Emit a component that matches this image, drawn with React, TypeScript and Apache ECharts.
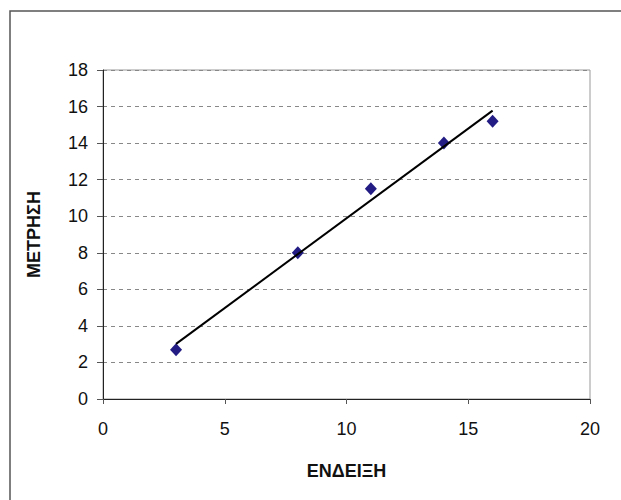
import React, { useEffect, useRef } from "react";
import * as echarts from "echarts";

const xValues = [3, 8, 11, 14, 16];
const yValues = [2.7, 8, 11.5, 14, 15.2];
const xAxisTitle = "ΕΝΔΕΙΞΗ";
const yAxisTitle = "ΜΕΤΡΗΣΗ";

function regression(xs: number[], ys: number[]) {
  const n = xs.length;
  const mx = xs.reduce((a, b) => a + b, 0) / n;
  const my = ys.reduce((a, b) => a + b, 0) / n;
  let sxy = 0;
  let sxx = 0;
  for (let i = 0; i < n; i++) {
    sxy += (xs[i] - mx) * (ys[i] - my);
    sxx += (xs[i] - mx) * (xs[i] - mx);
  }
  const slope = sxy / sxx;
  return { slope, intercept: my - slope * mx };
}

export default function App() {
  const ref = useRef<HTMLDivElement>(null);
  useEffect(() => {
    if (!ref.current) return;
    const chart = echarts.init(ref.current, null, { renderer: "svg" });
    const { slope, intercept } = regression(xValues, yValues);
    const xMin = Math.min(...xValues);
    const xMax = Math.max(...xValues);
    const trend = [
      [xMin, slope * xMin + intercept],
      [xMax, slope * xMax + intercept],
    ];
    const font = "Liberation Sans, Arial, sans-serif";
    chart.setOption({
      animation: false,
      backgroundColor: "#ffffff",
      graphic: [
        {
          type: "rect",
          shape: { x: 10, y: 11, width: 700, height: 600 },
          style: { fill: "none", stroke: "#555", lineWidth: 1.5 },
          silent: true,
          z: -10,
        },
      ],
      grid: {
        left: 103,
        right: 31,
        top: 70,
        bottom: 101,
        show: true,
        borderColor: "#999",
        borderWidth: 1,
      },
      xAxis: {
        type: "value",
        min: 0,
        max: 20,
        interval: 5,
        name: xAxisTitle,
        nameLocation: "middle",
        nameGap: 63,
        nameTextStyle: { fontFamily: font, fontWeight: "bold", fontSize: 18, color: "#111" },
        axisLine: { show: true, lineStyle: { color: "#222", width: 1 } },
        axisTick: { show: true, inside: false, length: 5, lineStyle: { color: "#555" } },
        axisLabel: { fontFamily: font, fontSize: 18, color: "#111", margin: 21 },
        splitLine: { show: false },
      },
      yAxis: {
        type: "value",
        min: 0,
        max: 18,
        interval: 2,
        name: yAxisTitle,
        nameLocation: "middle",
        nameGap: 60,
        nameTextStyle: { fontFamily: font, fontWeight: "bold", fontSize: 18, color: "#111" },
        axisLine: { show: true, lineStyle: { color: "#222", width: 1 } },
        axisTick: { show: true, inside: false, length: 6, lineStyle: { color: "#555" } },
        axisLabel: { fontFamily: font, fontSize: 18, color: "#111", margin: 15 },
        splitLine: { show: true, lineStyle: { color: "#888", type: [4, 4], width: 1 } },
      },
      series: [
        {
          type: "line",
          data: trend,
          symbol: "none",
          lineStyle: { color: "#000", width: 2 },
          z: 3,
        },
        {
          type: "scatter",
          data: xValues.map((x, i) => [x, yValues[i]]),
          symbol: "diamond",
          symbolSize: [12, 13],
          itemStyle: { color: "#221C84", opacity: 1 },
          z: 2,
        },
      ],
    });
    return () => chart.dispose();
  }, []);
  return (
    <div
      ref={ref}
      style={{ position: "fixed", left: 0, top: 0, width: 621, height: 500 }}
    />
  );
}
